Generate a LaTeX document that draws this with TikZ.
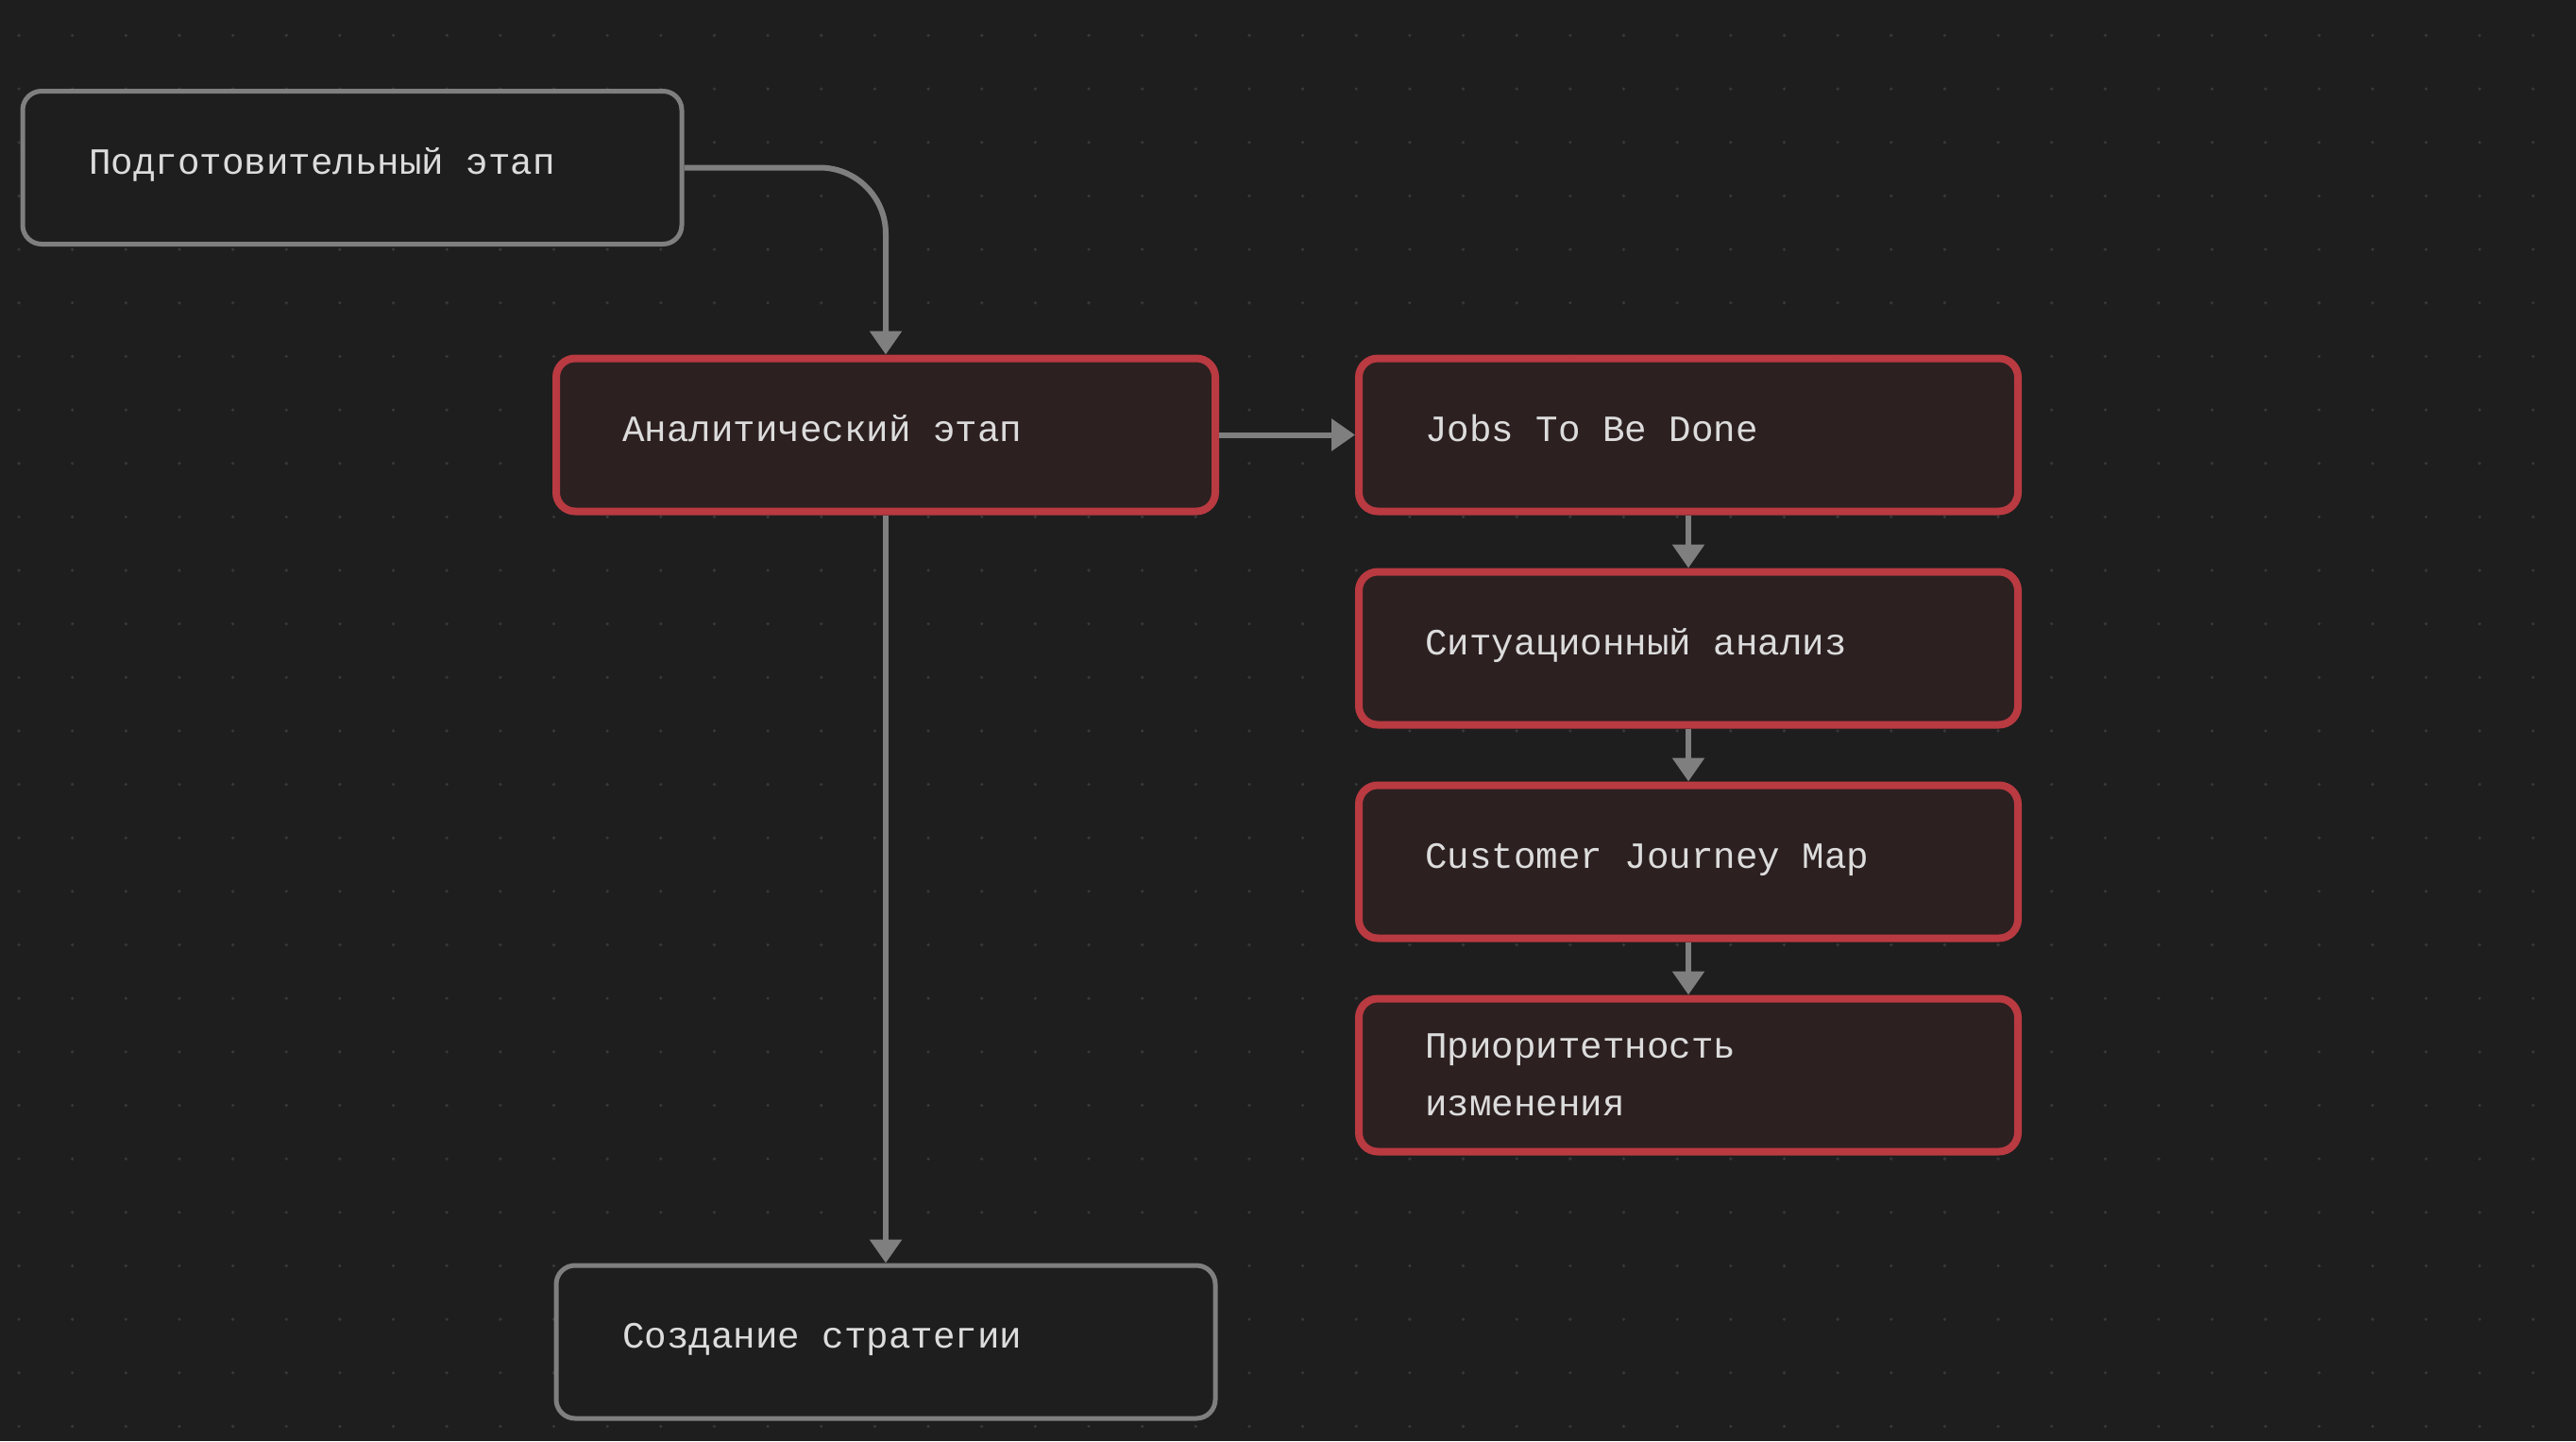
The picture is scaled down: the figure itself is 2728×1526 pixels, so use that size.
\documentclass[tikz,border=0pt]{standalone}
\usepackage{fontspec}
\newfontfamily\cardfont{Liberation Mono}
\usetikzlibrary{positioning,arrows.meta}
\definecolor{canvas}{HTML}{1E1E1E}
\definecolor{griddot}{HTML}{383838}
\definecolor{edgegrey}{HTML}{7F7F7F}
\definecolor{cardred}{HTML}{B93A41}
\definecolor{cardfill}{HTML}{2D2021}
\definecolor{cardtext}{HTML}{DCDCDC}
\tikzset{
    card/.style={rectangle, rounded corners=10pt, draw=edgegrey, line width=2.5pt, fill=canvas,
        minimum width=349pt, minimum height=81pt, text width=279pt, inner xsep=35pt, align=left,
        text height=16pt, text depth=9.5pt,
        text=cardtext, font=\cardfont\fontsize{19.6}{30.5}\selectfont,
        execute at begin node={\spaceskip=0.6em\relax}},
    hot/.style={card, draw=cardred, fill=cardfill, line width=4pt},
    link/.style={draw=edgegrey, line width=3pt, -{Triangle[width=16.5pt,length=12.5pt]}}
}

\begin{document}
\begin{tikzpicture}[x=0.5pt, y=-0.5pt]
    \fill[canvas] (0,0) rectangle (2728,1526);
    \useasboundingbox (0,0) rectangle (2728,1526);
    \foreach \i in {0,...,47}
        \foreach \j in {0,...,26}
            \fill[griddot] ({20+56.65*\i},{37.5+56.65*\j}) circle (0.9pt);

    \node[card] (prep) at (373,177.5) {Подготовительный этап};
    \node[hot] (analit) at (938,460.5) {Аналитический этап};
    \node[hot, right=72pt of analit] (jtbd) {Jobs To Be Done};
    \node[hot, below=28pt of jtbd] (situ) {Ситуационный анализ};
    \node[hot, below=28pt of situ] (cjm) {Customer Journey Map};
    \node[hot, below=28pt of cjm, text height=, text depth=] (prio) {Приоритетность\\изменения};
    \node[card, below=396pt of analit] (strat) {Создание стратегии};

    \draw[link, rounded corners=35pt] (prep.east) -| (analit.north);
    \draw[link] (analit.east) -- (jtbd.west);
    \draw[link] (jtbd.south) -- (situ.north);
    \draw[link] (situ.south) -- (cjm.north);
    \draw[link] (cjm.south) -- (prio.north);
    \draw[link] (analit.south) -- (strat.north);
\end{tikzpicture}
\end{document}
